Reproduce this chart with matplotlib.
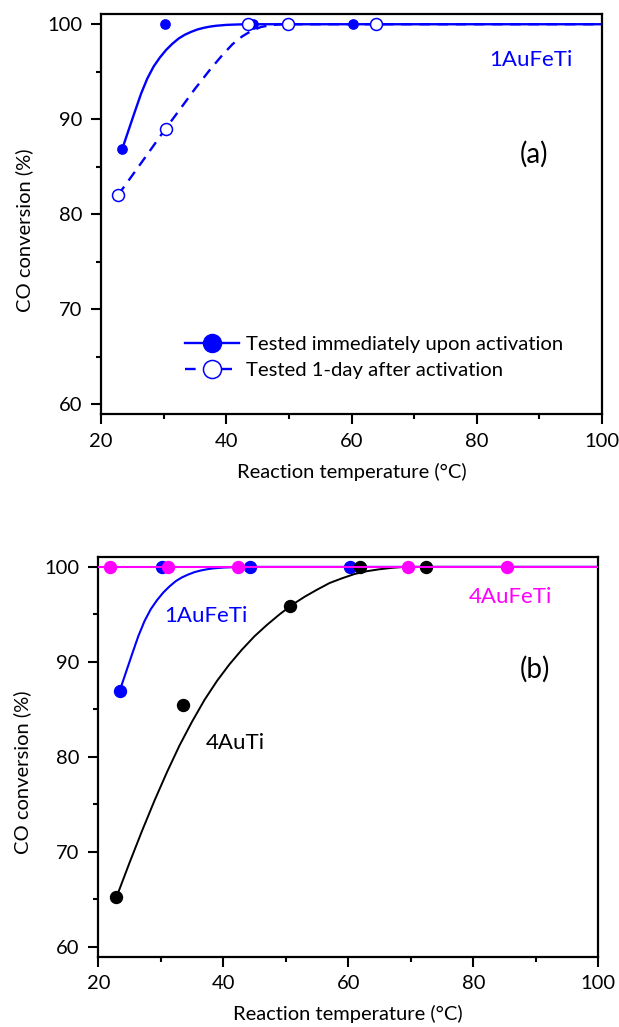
import numpy as np
import matplotlib
matplotlib.use("Agg")
import matplotlib.pyplot as plt
from matplotlib.lines import Line2D
from matplotlib.ticker import MultipleLocator

plt.rcParams['font.family'] = ['Lato', 'DejaVu Sans']

# panel (a): 1AuFeTi, fresh vs 1 day after activation
temp_fresh = [23.4, 30.2, 44.2, 60.2]
conv_fresh = [86.9, 100, 100, 100]
temp_aged = [22.7, 30.3, 43.4, 49.9, 63.9]
conv_aged = [82.0, 89.0, 100, 100, 100]

# fitted curves
fit_fresh_t = [23.4, 24.4, 25.4, 26.4, 27.4, 28.4, 29.4, 30.4, 31.4, 32.4, 33.4, 34.4, 35.4,
               36.4, 37.4, 38.4, 40.0, 42.0, 44.0, 100]
fit_fresh_c = [86.9, 88.85, 90.8, 92.7, 94.3, 95.55, 96.5, 97.3, 97.95, 98.5, 98.9, 99.2, 99.45,
               99.62, 99.75, 99.84, 99.93, 99.98, 100, 100]
fit_aged_t = [22.7, 25.0, 27.5, 30.3, 32.5, 35.0, 37.5, 39.5, 41.0, 42.5, 44.0, 45.5, 47.0, 49.0, 100]
fit_aged_c = [82.0, 84.1, 86.4, 89.0, 90.95, 93.2, 95.3, 96.85, 97.9, 98.7, 99.3, 99.7, 99.9, 100, 100]

# panel (b)
temp_4auti = [22.9, 33.5, 50.6, 61.9, 72.4]
conv_4auti = [65.2, 85.5, 95.85, 100, 100]
temp_4aufeti = [21.9, 31.1, 42.3, 69.6, 85.4]
conv_4aufeti = [100, 100, 100, 100, 100]
fit_4auti_t = [22.9, 25, 27, 29, 31, 33, 35, 37, 39, 41, 43, 45, 47, 49, 51, 53, 55, 57, 59,
               61, 63, 65, 67, 69, 100]
fit_4auti_c = [65.2, 68.85, 72.2, 75.4, 78.4, 81.2, 83.7, 86.0, 88.0, 89.75, 91.3, 92.7, 93.9,
               95.0, 96.0, 96.85, 97.6, 98.3, 98.8, 99.25, 99.55, 99.75, 99.9, 100, 100]
fit_4aufeti_t = [20, 100]
fit_4aufeti_c = [100, 100]

blue = '#0000ff'
mag = '#ff00ff'
fs = 14.5

fig = plt.figure(figsize=(6.19, 10.27), dpi=100)
ax1 = fig.add_axes([0.1632, 0.5966, 0.8094, 0.3898])
ax2 = fig.add_axes([0.1588, 0.0685, 0.8078, 0.3895])

for ax in (ax1, ax2):
    ax.set_xlim(20, 100)
    ax.set_ylim(58.95, 101.08)
    ax.xaxis.set_major_locator(MultipleLocator(20))
    ax.xaxis.set_minor_locator(MultipleLocator(10))
    ax.yaxis.set_major_locator(MultipleLocator(10))
    ax.yaxis.set_minor_locator(MultipleLocator(5))
    ax.tick_params(which='major', direction='out', length=7, width=1.5, labelsize=fs, pad=6.5)
    ax.tick_params(which='minor', direction='out', length=3.6, width=1.5)
    for s in ax.spines.values():
        s.set_linewidth(1.6)
    ax.set_xlabel('Reaction temperature (°C)', fontsize=fs, labelpad=9)
    ax.set_ylabel('CO conversion (%)', fontsize=fs)
    ax.yaxis.set_label_coords(-0.135, 0.46)

# (a)
ax1.plot(fit_fresh_t, fit_fresh_c, '-', color=blue, lw=1.7, zorder=2)
ax1.plot(fit_aged_t, fit_aged_c, '--', color=blue, lw=1.7, dashes=(4.5, 3.2), zorder=2)
ax1.plot(temp_fresh, conv_fresh, 'o', color=blue, ms=6.7, zorder=3)
ax1.plot(temp_aged, conv_aged, 'o', mfc='white', mec=blue, mew=1.1, ms=8.6, zorder=4)
ax1.text(88.6, 95.6, '1AuFeTi', color=blue, fontsize=16, ha='center', va='baseline')
ax1.text(89.2, 85.46, '(a)', fontsize=20, ha='center', va='baseline')

h1 = Line2D([], [], color=blue, lw=1.7, marker='o', ms=13)
h2 = Line2D([], [], color=blue, lw=1.7, ls='--', dashes=(4.5, 3.2), marker='o', ms=13, mfc='white', mew=1.1)
ax1.legend([h1, h2], ['Tested immediately upon activation', 'Tested 1-day after activation'],
           loc='center left', bbox_to_anchor=(0.1677, 0.1426), frameon=False, fontsize=14.6,
           handlelength=2.66, handletextpad=0.33, labelspacing=0.42, borderpad=0, borderaxespad=0)

# (b)
ax2.plot(fit_fresh_t, fit_fresh_c, '-', color=blue, lw=1.5, zorder=2)
ax2.plot(temp_fresh, conv_fresh, 'o', color=blue, ms=8.6, zorder=3)
ax2.plot(fit_4auti_t, fit_4auti_c, '-', color='black', lw=1.4, zorder=4)
ax2.plot(temp_4auti, conv_4auti, 'o', color='black', ms=8.6, zorder=5)
ax2.plot(fit_4aufeti_t, fit_4aufeti_c, '-', color=mag, lw=1.5, zorder=6)
ax2.plot(temp_4aufeti, conv_4aufeti, 'o', color=mag, ms=8.6, zorder=7)
ax2.text(37.15, 94.17, '1AuFeTi', color=blue, fontsize=16, ha='center', va='baseline')
ax2.text(85.87, 96.2, '4AuFeTi', color=mag, fontsize=16, ha='center', va='baseline')
ax2.text(41.95, 80.84, '4AuTi', color='black', fontsize=16, ha='center', va='baseline')
ax2.text(89.9, 88.3, '(b)', fontsize=20, ha='center', va='baseline')

fig.savefig('out.png', dpi=100)
